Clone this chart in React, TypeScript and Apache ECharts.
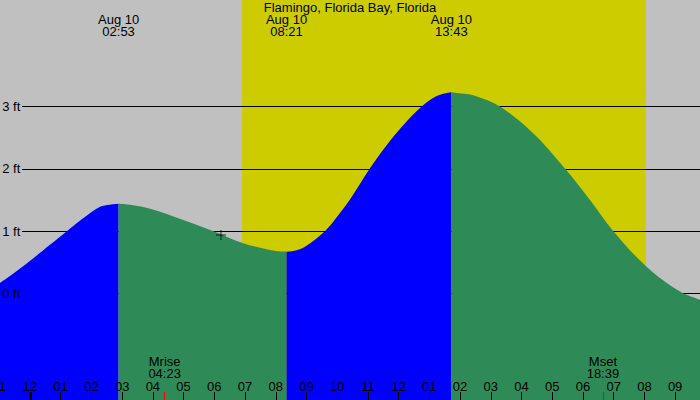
import React, { useEffect, useRef } from 'react';
import * as echarts from 'echarts';

const stationName = 'Flamingo, Florida Bay, Florida';
const dateLabel = 'Aug 10';

// hours after midnight (Aug 10) and tide height in feet
const tideHours = [
  -1, -0.43, 0.11, 0.65, 1.2, 1.74, 2.28, 2.6, 2.883, 3.3, 3.91, 4.99, 5.97, 6.94,
  7.7, 8.0, 8.35, 8.65, 8.95, 9.6, 10.04, 10.47, 11.04, 11.61, 12.15, 12.75,
  13.24, 13.717, 14.2, 14.5, 15.3, 16.38, 17.42, 18.23, 18.99, 20.07, 21.16, 21.81,
];
const tideFeet = [
  0.16, 0.36, 0.565, 0.78, 1.0, 1.21, 1.39, 1.425, 1.44, 1.42, 1.36, 1.18, 1.0, 0.805,
  0.71, 0.68, 0.67, 0.69, 0.75, 1.0, 1.26, 1.55, 1.99, 2.38, 2.7, 3.0,
  3.17, 3.23, 3.2, 3.17, 3.0, 2.57, 2.0, 1.5, 1.0, 0.43, 0.03, -0.1,
];

const extremeTimes = ['02:53', '08:21', '13:43'];
const sunTimes = ['06:54', '20:03'];
const moonNames = ['Mrise', 'Mset'];
const moonTimes = ['04:23', '18:39'];
const nowTime = '06:13';
const nowFeet = 0.94;

const hourTicks = [-1, 0, 1, 2, 3, 4, 5, 6, 7, 8, 9, 10, 11, 12, 13, 14, 15, 16, 17, 18, 19, 20, 21];
const hourLabels = ['11', '12', '01', '02', '03', '04', '05', '06', '07', '08', '09', '10', '11', '12', '01', '02', '03', '04', '05', '06', '07', '08', '09'];
const footLevels = [0, 1, 2, 3];

const FONT = '"Liberation Sans", Arial, sans-serif';
const RISING = '#0000ff';
const FALLING = '#2e8b57';

const toHour = (t: string) => {
  const [h, m] = t.split(':').map(Number);
  return h + m / 60;
};
const indexNear = (arr: number[], v: number) => {
  let best = 0;
  arr.forEach((a, i) => {
    if (Math.abs(a - v) < Math.abs(arr[best] - v)) best = i;
  });
  return best;
};

const App: React.FC = () => {
  const chartRef = useRef<HTMLDivElement>(null);

  useEffect(() => {
    if (!chartRef.current) return;
    const chart = echarts.init(chartRef.current, undefined, { renderer: 'svg' });

    const extremeHours = extremeTimes.map(toHour);
    const moonHours = moonTimes.map(toHour);
    const cuts = [0, ...extremeHours.map((h) => indexNear(tideHours, h)), tideHours.length - 1];

    // one filled series per rising / falling stretch of the tide
    const segments: any[] = [];
    for (let s = 0; s < cuts.length - 1; s++) {
      const pts: number[][] = [];
      for (let i = cuts[s]; i <= cuts[s + 1]; i++) pts.push([tideHours[i], tideFeet[i]]);
      const rising = tideFeet[cuts[s + 1]] > tideFeet[cuts[s]];
      segments.push({
        type: 'line',
        name: rising ? 'rising' : 'falling',
        data: pts,
        smooth: 0.35,
        showSymbol: false,
        silent: true,
        z: 3,
        lineStyle: { width: 0 },
        areaStyle: { color: rising ? RISING : FALLING, opacity: 1, origin: 'start' },
      });
    }

    segments[0].markArea = {
      silent: true,
      z: 1,
      itemStyle: { color: '#cccc00', opacity: 1 },
      data: [[{ xAxis: toHour(sunTimes[0]) }, { xAxis: toHour(sunTimes[1]) }]],
    };
    segments[0].markLine = {
      silent: true,
      z: 2,
      symbol: ['none', 'none'],
      label: { show: false },
      lineStyle: { color: '#000', width: 1, type: 'solid' },
      data: footLevels.map((v) => [{ x: 22, yAxis: v }, { x: 700, yAxis: v }]),
    };

    const baseX = {
      type: 'value' as const,
      min: -1,
      max: 21.81,
      z: 10,
      splitLine: { show: false },
      axisLine: { show: false, onZero: false },
    };
    const labelText = { color: '#000', fontSize: 13, fontFamily: FONT, lineHeight: 12 };

    const option: any = {
      animation: false,
      backgroundColor: '#c0c0c0',
      title: {
        text: stationName,
        left: 'center',
        top: 1,
        padding: 0,
        textStyle: { color: '#000', fontSize: 13, fontWeight: 'normal', fontFamily: FONT, lineHeight: 13 },
      },
      grid: { left: -0.72, right: 0, top: 0, bottom: 0, containLabel: false, outerBoundsMode: 'none' },
      xAxis: [
        {
          ...baseX,
          position: 'bottom',
          axisTick: { inside: true, length: 8, customValues: hourTicks, lineStyle: { color: '#000', width: 1 } },
          axisLabel: {
            ...labelText,
            inside: true,
            margin: 8,
            customValues: hourTicks,
            formatter: (v: number) => hourLabels[indexNear(hourTicks, v)],
          },
        },
        {
          ...baseX,
          position: 'bottom',
          axisTick: { inside: true, length: 8, customValues: moonHours, lineStyle: { color: '#ff0000', width: 1 } },
          axisLabel: {
            ...labelText,
            inside: true,
            margin: 21,
            customValues: moonHours,
            formatter: (v: number) => {
              const i = indexNear(moonHours, v);
              return moonNames[i] + '\n' + moonTimes[i];
            },
          },
        },
        {
          ...baseX,
          position: 'bottom',
          axisTick: { inside: true, length: 8, customValues: [0], lineStyle: { color: '#000', width: 3 } },
          axisLabel: { show: false },
        },
        {
          ...baseX,
          position: 'top',
          axisTick: { show: false },
          axisLabel: {
            ...labelText,
            inside: true,
            margin: 13,
            customValues: extremeHours,
            formatter: (v: number) => dateLabel + '\n' + extremeTimes[indexNear(extremeHours, v)],
          },
        },
      ],
      yAxis: {
        type: 'value',
        min: -1.709,
        max: 4.709,
        z: 10,
        splitLine: { show: false },
        axisLine: { show: false, onZero: false },
        axisTick: { show: false },
        axisLabel: {
          ...labelText,
          inside: true,
          margin: 3,
          customValues: footLevels,
          formatter: (v: number) => v + ' ft',
        },
      },
      series: [
        ...segments,
        {
          type: 'scatter',
          name: 'now',
          silent: true,
          z: 4,
          symbol: 'path://M4.5,0H5.5V4.5H10V5.5H5.5V10H4.5V5.5H0V4.5H4.5Z',
          symbolSize: 10,
          itemStyle: { color: '#000' },
          data: [[toHour(nowTime), nowFeet]],
        },
      ],
    };

    chart.setOption(option);
    return () => chart.dispose();
  }, []);

  return (
    <div
      ref={chartRef}
      style={{ position: 'absolute', left: 0, top: 0, width: '700px', height: '400px' }}
    />
  );
};

export default App;
